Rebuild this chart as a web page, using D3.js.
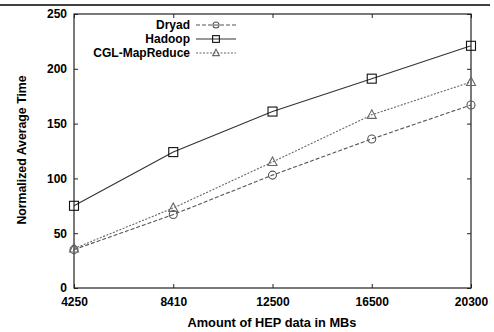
<!DOCTYPE html>
<html>
<head>
<meta charset="utf-8">
<script src="https://cdn.jsdelivr.net/npm/d3@7"></script>
<style>
  body { margin: 0; background: #fff; }
  text { font-family: "Liberation Sans", Arial, sans-serif; font-weight: bold; }
</style>
</head>
<body>
<div id="chart"></div>
<script>
const sizes = ["4250", "8410", "12500", "16500", "20300"];
const dryad = [35, 67, 103, 136, 167];
const hadoop = [75, 124, 161, 191, 221];
const cglMapReduce = [36, 73, 115, 158, 188];
const yTicks = [0, 50, 100, 150, 200, 250];

const series = [
  { name: "Dryad", values: dryad, marker: "circle", dash: "4,2", color: "#555" },
  { name: "Hadoop", values: hadoop, marker: "square", dash: null, color: "#333" },
  { name: "CGL-MapReduce", values: cglMapReduce, marker: "triangle", dash: "2,1.5", color: "#666" }
];

const width = 494, height = 332;
const margin = { top: 14, right: 23, bottom: 44, left: 74 };

const svg = d3.select("#chart").append("svg")
  .attr("width", width)
  .attr("height", height);

// rule across the top of the page
svg.append("line")
  .attr("x1", 0).attr("x2", 490)
  .attr("y1", 5).attr("y2", 5)
  .attr("stroke", "#000").attr("stroke-width", 1.5);

const x = d3.scalePoint()
  .domain(sizes)
  .range([margin.left, width - margin.right]);

const y = d3.scaleLinear()
  .domain([0, 250])
  .range([height - margin.bottom, margin.top]);

// frame
svg.append("rect")
  .attr("x", margin.left).attr("y", margin.top)
  .attr("width", width - margin.left - margin.right)
  .attr("height", height - margin.top - margin.bottom)
  .attr("fill", "none").attr("stroke", "#222").attr("stroke-width", 1.2);

// axes with inward ticks, mirrored
svg.append("g")
  .attr("transform", `translate(0,${height - margin.bottom})`)
  .call(d3.axisBottom(x).tickSizeInner(-4).tickSizeOuter(0).tickPadding(9))
  .call(g => g.select(".domain").remove());

svg.append("g")
  .attr("transform", `translate(0,${margin.top})`)
  .call(d3.axisTop(x).tickSizeInner(-4).tickSizeOuter(0).tickFormat(""))
  .call(g => g.select(".domain").remove());

svg.append("g")
  .attr("transform", `translate(${margin.left},0)`)
  .call(d3.axisLeft(y).tickValues(yTicks).tickSizeInner(-4).tickSizeOuter(0).tickPadding(7))
  .call(g => g.select(".domain").remove());

svg.append("g")
  .attr("transform", `translate(${width - margin.right},0)`)
  .call(d3.axisRight(y).tickValues(yTicks).tickSizeInner(-4).tickSizeOuter(0).tickFormat(""))
  .call(g => g.select(".domain").remove());

svg.selectAll(".tick text")
  .attr("font-size", 12)
  .attr("font-family", "Liberation Sans, Arial, sans-serif")
  .attr("font-weight", "bold")
  .attr("fill", "#000");
svg.selectAll(".tick line").attr("stroke", "#222");

// axis titles
svg.append("text")
  .attr("x", 272)
  .attr("y", 327)
  .attr("text-anchor", "middle")
  .attr("font-size", 12.8)
  .text("Amount of HEP data in MBs");

svg.append("text")
  .attr("transform", "translate(26,150) rotate(-90)")
  .attr("text-anchor", "middle")
  .attr("font-size", 12.3)
  .text("Normalized Average Time");

function drawMarker(g, type, cx, cy, color, k) {
  if (type === "circle") {
    g.append("circle").attr("cx", cx).attr("cy", cy).attr("r", 4 * k)
      .attr("fill", "none").attr("stroke", color).attr("stroke-width", 1.1);
  } else if (type === "square") {
    g.append("rect").attr("x", cx - 4.5 * k).attr("y", cy - 4.5 * k)
      .attr("width", 9 * k).attr("height", 9 * k)
      .attr("fill", "none").attr("stroke", "#111").attr("stroke-width", 1.1);
  } else {
    g.append("path")
      .attr("d", `M${cx},${cy - 5 * k}L${cx + 4.5 * k},${cy + 3.5 * k}L${cx - 4.5 * k},${cy + 3.5 * k}Z`)
      .attr("fill", "none").attr("stroke", color).attr("stroke-width", 1.1);
  }
}

const line = d3.line()
  .x((d, i) => x(sizes[i]))
  .y(d => y(d));

series.forEach(s => {
  const g = svg.append("g");
  g.append("path")
    .datum(s.values)
    .attr("d", line)
    .attr("fill", "none")
    .attr("stroke", s.color)
    .attr("stroke-width", 1.1)
    .attr("stroke-dasharray", s.dash);
  s.values.forEach((v, i) => drawMarker(g, s.marker, x(sizes[i]), y(v), s.color, 1));
});

// legend
const legend = svg.append("g");
series.forEach((s, i) => {
  const ly = 25 + i * 14;
  legend.append("text")
    .attr("x", 190).attr("y", ly + 4)
    .attr("text-anchor", "end")
    .attr("font-size", 12)
    .text(s.name);
  legend.append("line")
    .attr("x1", 196).attr("x2", 236)
    .attr("y1", ly).attr("y2", ly)
    .attr("stroke", s.color).attr("stroke-width", 1.1)
    .attr("stroke-dasharray", s.dash);
  drawMarker(legend, s.marker, 216, ly, s.color, 0.75);
});
</script>
</body>
</html>
